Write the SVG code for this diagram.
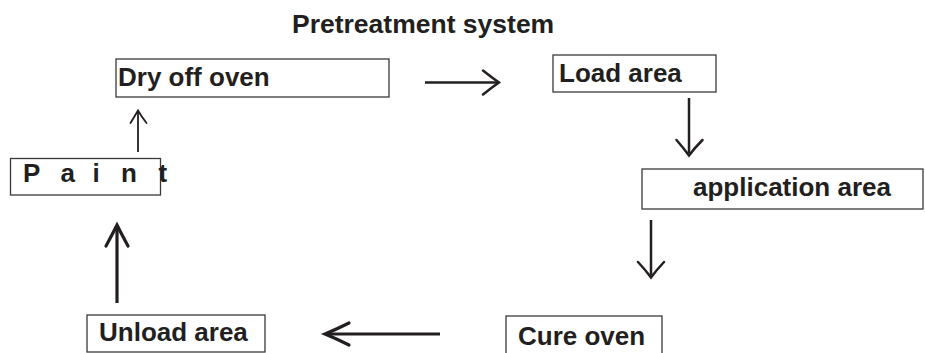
<svg xmlns="http://www.w3.org/2000/svg" width="925" height="353" viewBox="0 0 925 353">
  <style>
    .box { fill: #ffffff; stroke: #3a3a3a; stroke-width: 1.3; }
    .label { font-family: "Liberation Sans", Arial, sans-serif; font-weight: bold; font-size: 26px; fill: #231f20; }
    .title { font-family: "Liberation Sans", Arial, sans-serif; font-weight: bold; font-size: 26.5px; fill: #231f20; }
    .shaft { stroke: #231f20; fill: none; stroke-linecap: butt; }
    .head { stroke: #231f20; fill: none; stroke-linecap: round; stroke-linejoin: miter; }
  </style>

  <rect x="0" y="0" width="925" height="353" fill="#ffffff"/>

  <text class="title" x="292" y="33">Pretreatment system</text>

  <g id="dry-off-oven">
    <rect class="box" x="116" y="59" width="273" height="38"/>
    <text class="label" x="118" y="86">Dry off oven</text>
  </g>

  <g id="load-area">
    <rect class="box" x="553" y="55" width="163" height="37"/>
    <text class="label" x="559" y="82">Load area</text>
  </g>

  <g id="application-area">
    <rect class="box" x="642" y="169" width="281" height="40"/>
    <text class="label" x="693" y="196">application area</text>
  </g>

  <g id="cure-oven">
    <rect class="box" x="506" y="316" width="156" height="50"/>
    <text class="label" x="518" y="345">Cure oven</text>
  </g>

  <g id="unload-area">
    <rect class="box" x="87" y="315" width="178" height="37"/>
    <text class="label" x="99" y="341">Unload area</text>
  </g>

  <g id="paint">
    <rect class="box" x="10.5" y="158.5" width="150" height="36.5"/>
    <text class="label" x="23 60.5 92.5 121 158.5" y="182">Paint</text>
  </g>

  <g id="connectors">
    <!-- Dry off oven to Load area -->
    <line class="shaft" x1="425" y1="82.5" x2="497" y2="82.5" stroke-width="2.5"/>
    <path class="head" d="M483,70.5 Q491,77 499,82.5 Q491,88 483,94.5" stroke-width="2.5"/>

    <!-- Load area to application area -->
    <line class="shaft" x1="689" y1="98" x2="689" y2="153" stroke-width="2.5"/>
    <path class="head" d="M676.5,140 Q683.5,148 689,155.5 Q694.5,148 702.5,140" stroke-width="2.5"/>

    <!-- application area to Cure oven -->
    <line class="shaft" x1="651" y1="220" x2="651" y2="275" stroke-width="2.5"/>
    <path class="head" d="M638,262 Q645.5,270 651,277.5 Q656.5,270 664,262" stroke-width="2.5"/>

    <!-- Cure oven to Unload area -->
    <line class="shaft" x1="440" y1="334" x2="328" y2="334" stroke-width="3.2"/>
    <path class="head" d="M349,323 Q336,329.5 325,334 Q336,338.5 349,345" stroke-width="3.2"/>

    <!-- Unload area to Paint -->
    <line class="shaft" x1="117" y1="303" x2="117" y2="228" stroke-width="3.2"/>
    <path class="head" d="M106,246 Q112,235 117,225 Q122,235 128,246" stroke-width="3.2"/>

    <!-- Paint to Dry off oven -->
    <line class="shaft" x1="138" y1="152" x2="138" y2="112" stroke-width="1.8"/>
    <path class="head" d="M130.5,123 Q134.5,116.5 138,110.5 Q141.5,116.5 146.5,123" stroke-width="1.8"/>
  </g>
</svg>
